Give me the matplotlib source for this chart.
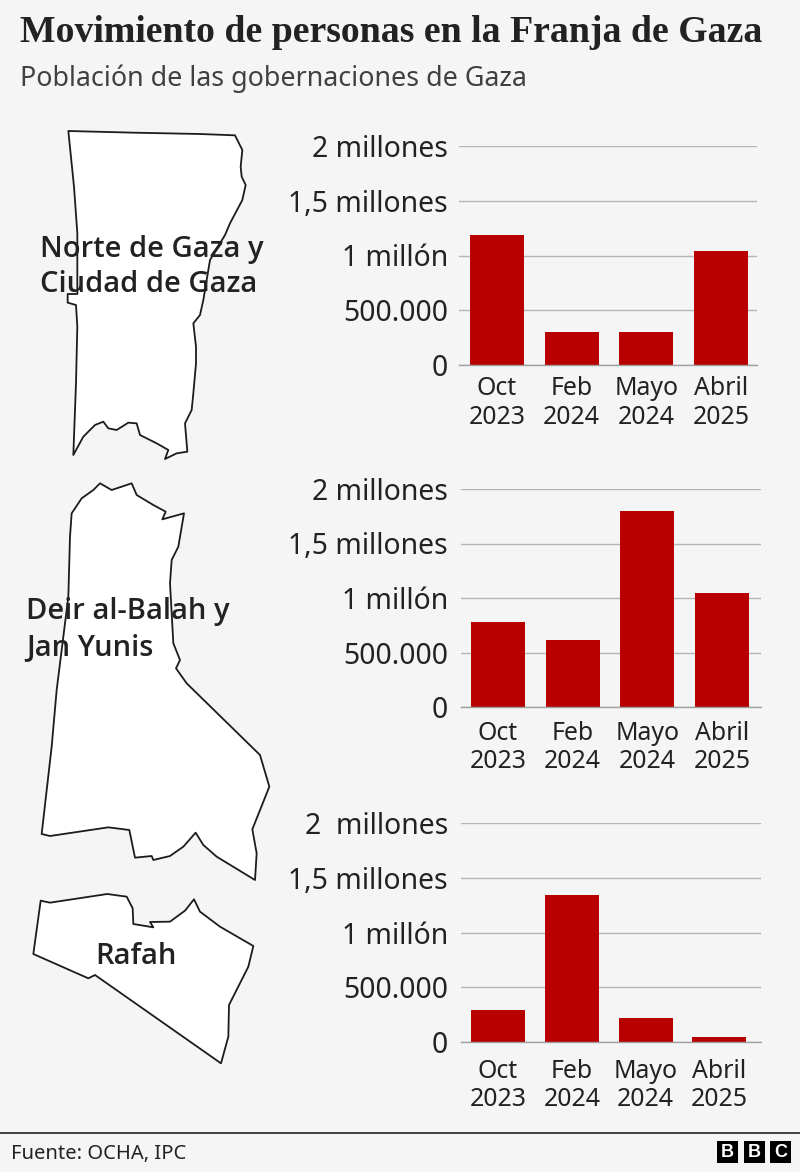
import matplotlib
matplotlib.use("Agg")
import matplotlib.pyplot as plt
from matplotlib.patches import Polygon, Rectangle

BG = "#f5f5f5"
RED = "#b80000"
INK = "#222222"
SANS = ["Noto Sans", "DejaVu Sans"]

categories_a = ["Oct\n2023", "Feb\n2024", "Mayo\n2024", "Abril\n2025"]
north_values = [1190000, 300000, 300000, 1040000]
central_values = [780000, 615000, 1800000, 1045000]
rafah_values = [290000, 1340000, 220000, 45000]
y_ticks = [0, 500000, 1000000, 1500000, 2000000]
y_labels = ["0", "500.000", "1 millón", "1,5 millones", "2 millones"]
y_labels_rafah = ["0", "500.000", "1 millón", "1,5 millones", "2  millones"]

north_outline = [(205,33),(400,38),(600,42),(705,46),(727,90),(722,140),(725,170),(737,195),(727,240),(690,310),(675,345),(630,420),(610,540),(600,585),(580,610),(588,680),(588,730),(580,820),(575,870),(555,910),(562,995),(530,1000),(495,1017),(505,990),(470,970),(420,945),(410,910),(385,908),(350,930),(325,925),(310,905),(285,915),(250,950),(220,1005),(228,790),(232,620),(228,555),(203,548),(203,522),(232,522),(232,340),(222,200)]
central_outline = [(215,130),(245,85),(280,60),(300,40),(335,60),(395,40),(410,75),(460,105),(497,125),(487,148),(552,130),(535,230),(515,270),(510,340),(520,520),(540,570),(528,595),(560,640),(780,855),(808,950),(757,1078),(770,1150),(765,1230),(650,1160),(610,1125),(587,1088),(550,1130),(510,1158),(460,1170),(455,1158),(405,1163),(388,1080),(325,1072),(150,1098),(125,1092),(155,830),(170,660),(205,380),(210,200)]
rafah_outline = [(122,62),(150,68),(322,42),(380,50),(398,85),(400,132),(460,142),(450,126),(510,125),(555,92),(582,58),(600,95),(660,140),(760,198),(745,260),(687,375),(685,470),(663,550),(285,285),(265,295),(100,222)]

W, H = 800, 1172
fig = plt.figure(figsize=(W / 100, H / 100), dpi=100, facecolor=BG)
bg = fig.add_axes([0, 0, 1, 1], zorder=0)
bg.set_xlim(0, W)
bg.set_ylim(H, 0)
bg.axis("off")


def draw_outline(points, ox, oy):
    pts = [(x / 3 + ox, y / 3 + oy) for x, y in points]
    bg.add_patch(Polygon(pts, closed=True, fc="white", ec="#1c1c1c", lw=1.3, joinstyle="round"))


draw_outline(north_outline, 0, 120)
draw_outline(central_outline, 0, 470)
draw_outline(rafah_outline, 0, 880)


def chart(values, labels, left, right, top, bottom, c0, step, ypad, xpad):
    ax = fig.add_axes([left / W, 1 - bottom / H, (right - left) / W, (bottom - top) / H], zorder=2)
    ax.patch.set_alpha(0)
    ax.bar(range(4), values, width=54 / step, color=RED, zorder=3)
    ax.set_xlim((left - c0) / step, (right - c0) / step)
    ax.set_ylim(0, 2000000)
    ax.set_yticks(y_ticks, labels, fontsize=20.4, color=INK, family=SANS)
    ax.set_xticks(range(4), categories_a, fontsize=17.9, color=INK, family=SANS, linespacing=1.18)
    ax.tick_params(axis="y", length=0, pad=ypad)
    ax.tick_params(axis="x", length=0, pad=xpad)
    ax.grid(axis="y", color="#b5b5b5", lw=1, zorder=1)
    ax.set_axisbelow(True)
    for s in ax.spines.values():
        s.set_visible(False)
    ax.spines["bottom"].set_visible(True)
    ax.spines["bottom"].set_color("#a0a0a0")
    ax.spines["bottom"].set_linewidth(1)
    ax.spines["bottom"].set_zorder(4)
    return ax


chart(north_values, y_labels, 459, 757, 146, 365, 497, 74.6, 8, 8)
chart(central_values, y_labels, 461, 761, 489, 707, 498, 74.6, 9.5, 10)
chart(rafah_values, y_labels_rafah, 461, 761, 823, 1042, 498, 73.8, 9.5, 12)

top = fig.add_axes([0, 0, 1, 1], zorder=3)
top.set_xlim(0, W)
top.set_ylim(H, 0)
top.axis("off")
top.text(20, 33, "Movimiento de personas en la Franja de Gaza", fontsize=27.2, weight="bold",
         family=["Liberation Serif"], color=INK, va="center", ha="left")
top.text(20, 78.5, "Población de las gobernaciones de Gaza", fontsize=19.35, family=SANS,
         color="#404040", va="center", ha="left")
for x, y, s in [(40, 249, "Norte de Gaza y"), (40, 285, "Ciudad de Gaza"),
                (26, 612, "Deir al-Balah y"), (26, 648, "Jan Yunis"), (95, 957, "Rafah")]:
    top.text(x, y, s, fontsize=21, weight="semibold", family=["Open Sans", "DejaVu Sans"], color=INK,
             va="center", ha="left")
top.plot([0, W], [1133, 1133], color="#333333", lw=1.3)
top.text(11, 1154, "Fuente: OCHA, IPC", fontsize=14.5, family=SANS, color=INK, va="center", ha="left")
for x, s in [(717, "B"), (743.5, "B"), (770, "C")]:
    top.add_patch(Rectangle((x, 1141), 21, 22, fc="black", ec="none"))
    top.text(x + 10.5, 1152.3, s, fontsize=13, weight="bold", family=["Liberation Sans"], color="white",
             ha="center", va="center")

fig.savefig("out.png", dpi=100, facecolor=BG)
